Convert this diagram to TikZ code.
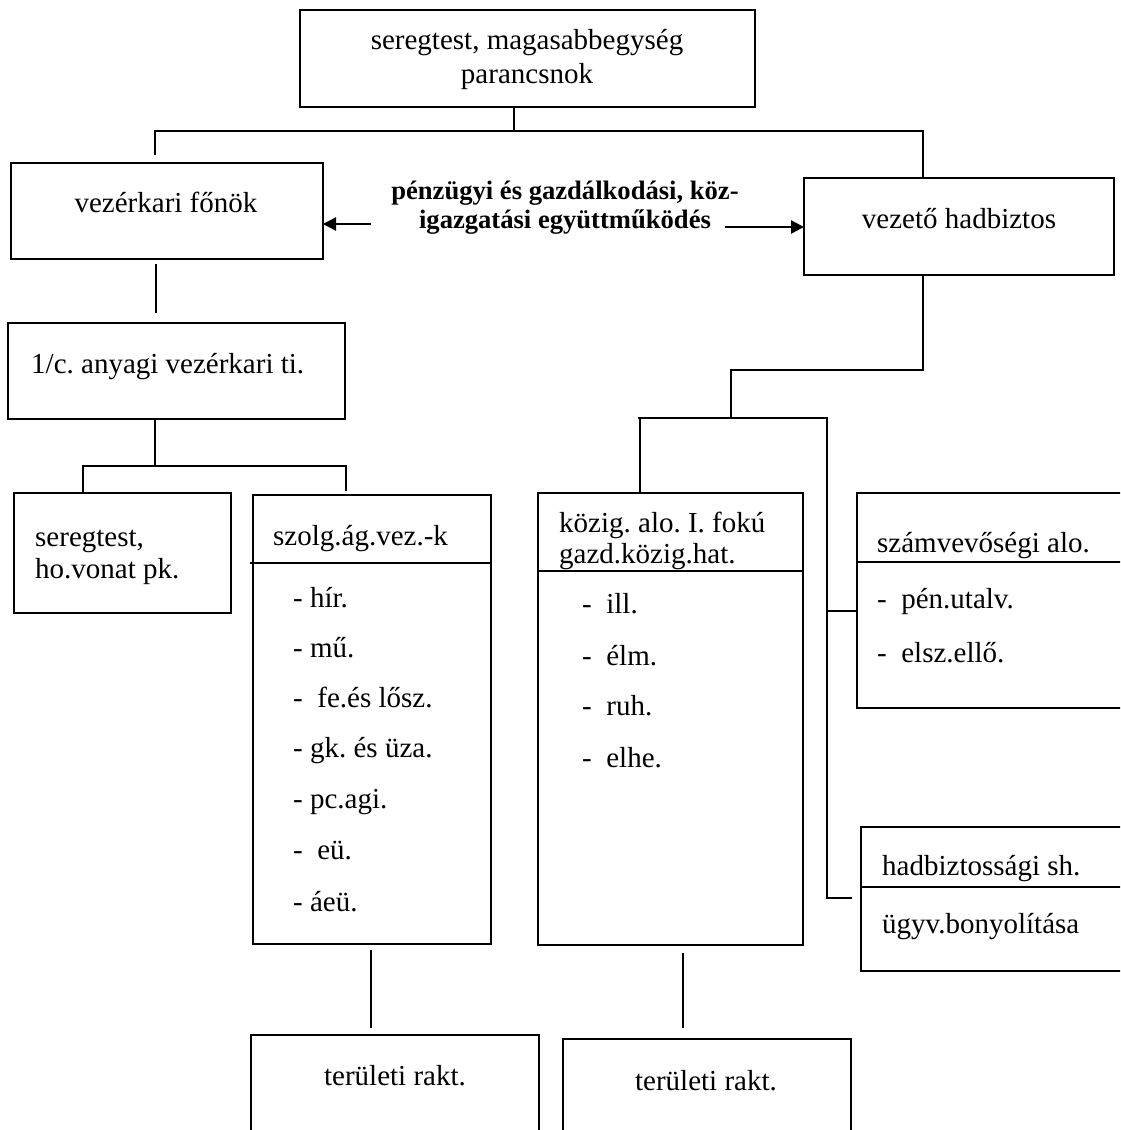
\documentclass[tikz,border=0pt]{standalone}
\usepackage{fontspec}
\setmainfont{Liberation Serif}
\usetikzlibrary{arrows.meta}
\newcommand\mybox[5]{\node[box, minimum width=#4pt, minimum height=#5pt] (#1) at (#2,#3) {};}
\frenchspacing
\begin{document}
\begin{tikzpicture}[x=1pt,y=-1pt,
  box/.style={draw, line width=1.8pt, rectangle, anchor=north west, inner sep=0pt, outer sep=0pt},
  conn/.style={line width=1.5pt},
  divl/.style={line width=1.8pt},
  txt/.style={inner sep=0pt, anchor=base west, font=\fontsize{29}{34}\selectfont},
  ctxt/.style={inner sep=0pt, anchor=base, font=\fontsize{29}{34}\selectfont},
  btxt/.style={inner sep=0pt, anchor=base, font=\fontsize{26.6}{30}\selectfont\bfseries},
  arr/.style={line width=2.6pt, -{Triangle[length=13pt,width=13pt]}}
]
\useasboundingbox (0,0) rectangle (1120,1130);
\clip (0,0) rectangle (1120,1130);

% boxes
\mybox{top}{300}{10}{455}{97}
\mybox{vkf}{11}{163}{312}{96}
\mybox{vhb}{804}{178}{310}{97}
\mybox{any}{8}{323}{337}{96}
\mybox{ser}{14}{493}{217}{120}
\mybox{szo}{253}{495}{238}{449}
\mybox{koz}{538}{493}{265}{452}
\mybox{szv}{857}{493}{275}{215}
\mybox{hdb}{861}{827}{270}{144}
\mybox{terA}{251}{1035}{288}{110}
\mybox{terB}{563}{1039}{288}{110}

% dividers
\coordinate (dv1) at (250,563);
\draw[divl] (dv1) -- (szo.east |- dv1);
\coordinate (dv2) at (0,571);
\draw[divl] (koz.west |- dv2) -- (koz.east |- dv2);
\coordinate (dv3) at (0,562);
\draw[divl] (szv.west |- dv3) -- (szv.east |- dv3);
\coordinate (dv4) at (0,887);
\draw[divl] (hdb.west |- dv4) -- (hdb.east |- dv4);

% connectors, left part
\coordinate (j0) at (514,131);
\draw[conn] (top.south -| j0) -- (j0);
\coordinate (jL) at (155,131);
\coordinate (jR) at (923,131);
\coordinate (vkfTop) at (155,155);
\draw[conn] (vkfTop) -- (jL) -- (jR) -- (vhb.north -| jR);
\coordinate (a1) at (156,264);
\coordinate (a2) at (156,313);
\draw[conn] (a1) -- (a2);
\coordinate (b1) at (155,466);
\draw[conn] (any.south -| b1) -- (b1);
\coordinate (b2) at (83,466);
\coordinate (b3) at (346,466);
\coordinate (b4) at (346,491);
\draw[conn] (ser.north -| b2) -- (b2) -- (b3) -- (b4);
\coordinate (c1) at (371,950);
\coordinate (c2) at (371,1028);
\draw[conn] (c1) -- (c2);
\coordinate (d1) at (683,953);
\coordinate (d2) at (683,1028);
\draw[conn] (d1) -- (d2);

% connectors, right part
\coordinate (r1) at (923,370);
\coordinate (r2) at (731,370);
\coordinate (r3) at (731,418);
\draw[conn] (vhb.south -| r1) -- (r1) -- (r2) -- (r3);
\coordinate (r4) at (638,418);
\coordinate (r5) at (640,418);
\coordinate (r6) at (827,418);
\coordinate (r7) at (827,898);
\coordinate (r8) at (852,898);
\coordinate (r9) at (827,611);
\draw[conn] (koz.north -| r5) -- (r5);
\draw[conn] (r4) -- (r6) -- (r7) -- (r8);
\draw[conn] (r9) -- (szv.west |- r9);

% arrows
\coordinate (al) at (371,224);
\draw[arr] (al) -- (vkf.east |- al);
\coordinate (ar) at (725,227);
\draw[arr] (ar) -- (vhb.west |- ar);

% texts
\node[ctxt] (t1) at (527,49) {seregtest, magasabbegység};
\node[ctxt] (t2) at (527,83) {parancsnok};
\node[ctxt] (t3) at (166,212) {vezérkari főnök};
\node[ctxt] (t4) at (959,228) {vezető hadbiztos};
\node[btxt] (t5) at (565,199) {pénzügyi és gazdálkodási, köz-};
\node[btxt] (t6) at (565,228) {igazgatási együttműködés};
\node[txt] (t7) at (31,373) {1/c. anyagi vezérkari ti.};
\node[txt] (t8) at (35,546) {seregtest,};
\node[txt] (t9) at (35,578) {ho.vonat pk.};
\node[txt] (t10) at (273,545) {szolg.ág.vez.-k};
\node[txt] (s1) at (293,607) {- hír.};
\node[txt] (s2) at (293,657) {- mű.};
\node[txt] (s3) at (293,707) {-~~fe.és lősz.};
\node[txt] (s4) at (293,757) {- gk. és üza.};
\node[txt] (s5) at (293,808) {- pc.agi.};
\node[txt] (s6) at (293,859) {-~~eü.};
\node[txt] (s7) at (293,911) {- áeü.};
\node[ctxt] (t11) at (395,1085) {területi rakt.};
\node[txt] (t12) at (559,532) {közig. alo. I. fokú};
\node[txt] (t13) at (559,563) {gazd.közig.hat.};
\node[txt] (k1) at (582,613) {-~~ill.};
\node[txt] (k2) at (582,665) {-~~élm.};
\node[txt] (k3) at (582,715) {-~~ruh.};
\node[txt] (k4) at (582,767) {-~~elhe.};
\node[ctxt] (t14) at (706,1090) {területi rakt.};
\node[txt] (t15) at (877,552) {számvevőségi alo.};
\node[txt] (z1) at (877,608) {-~~pén.utalv.};
\node[txt] (z2) at (877,662) {-~~elsz.ellő.};
\node[txt] (t16) at (882,875) {hadbiztossági sh.};
\node[txt] (t17) at (882,933) {ügyv.bonyolítása};
\end{tikzpicture}
\end{document}
